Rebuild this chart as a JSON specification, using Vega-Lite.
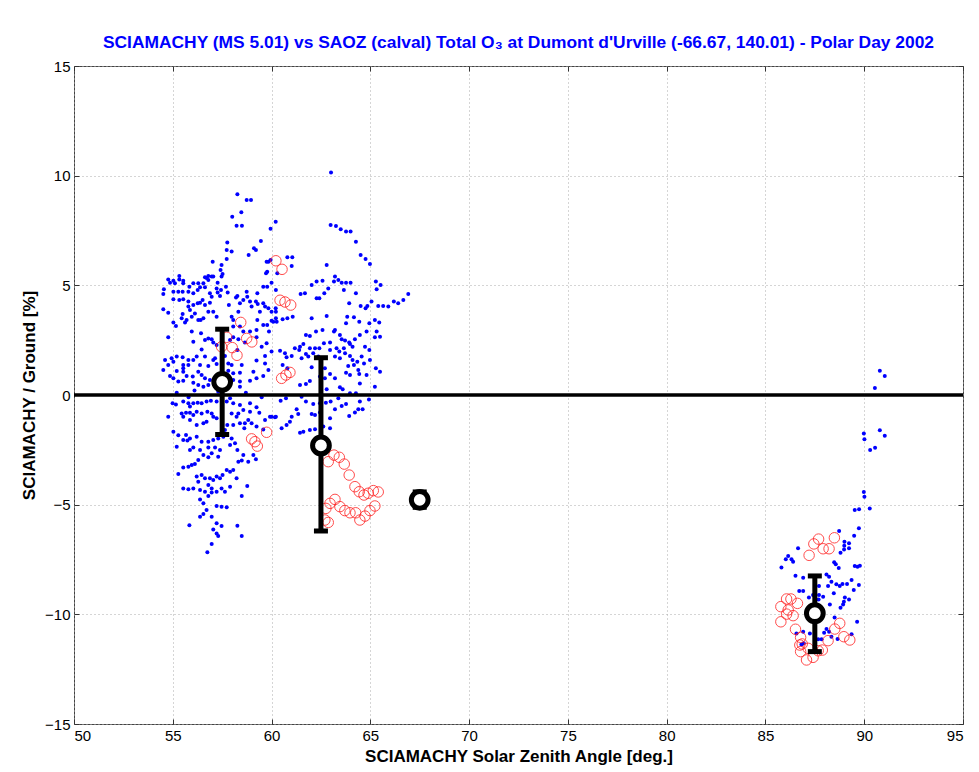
{
"$schema":"https://vega.github.io/schema/vega-lite/v6.json",
"width":889,"height":658,
"autosize":{"type":"none"},
"padding":{"left":74,"top":66,"right":16,"bottom":48},
"background":"white",
"title":{"text":"SCIAMACHY (MS 5.01) vs SAOZ (calval) Total O₃ at Dumont d'Urville (-66.67, 140.01) - Polar Day 2002","color":"#0000ff","fontSize":17.4,"fontWeight":"bold","font":"Liberation Sans","anchor":"middle","offset":8},
"config":{"view":{"stroke":"#444","strokeWidth":1},"axis":{"labelFont":"Liberation Sans","labelFontSize":15,"labelColor":"black","titleFont":"Liberation Sans","titleFontSize":17,"titleFontWeight":"bold","titleColor":"black","domain":false,"tickColor":"#333","gridColor":"#aaa","gridDash":[1,3],"gridOpacity":1}},
"datasets":{
"blue":[
{"sza":58.27,"d":9.15},{"sza":58.74,"d":8.89},{"sza":58.96,"d":8.89},{"sza":58.47,"d":8.33},{"sza":58.01,"d":8.13},{"sza":58.23,"d":7.72},{"sza":58.5,"d":7.72},{"sza":60.21,"d":7.9},{"sza":59.95,"d":7.58},{"sza":59.46,"d":7.02},{"sza":57.76,"d":6.95},{"sza":57.73,"d":6.61},{"sza":57.98,"d":6.54},{"sza":59.11,"d":6.69},{"sza":59.21,"d":6.61},{"sza":58.84,"d":6.38},{"sza":57.73,"d":6.2},{"sza":59.75,"d":6.08},{"sza":59.95,"d":6.16},
{"sza":63.01,"d":10.14},{"sza":62.99,"d":7.75},{"sza":63.26,"d":7.71},{"sza":63.5,"d":7.56},{"sza":63.77,"d":7.45},{"sza":64.0,"d":7.45},{"sza":64.27,"d":6.99},
{"sza":57.02,"d":6.08},{"sza":57.47,"d":5.93},{"sza":57.42,"d":5.7},{"sza":57.52,"d":5.52},{"sza":57.47,"d":5.4},{"sza":59.72,"d":5.55},{"sza":59.78,"d":5.62},{"sza":59.84,"d":6.08},{"sza":57.05,"d":5.4},{"sza":56.8,"d":5.43},{"sza":56.63,"d":5.37},
{"sza":54.77,"d":5.27},{"sza":55.03,"d":5.21},{"sza":55.33,"d":5.43},{"sza":55.33,"d":5.27},{"sza":55.53,"d":5.21},{"sza":55.53,"d":5.09},{"sza":54.86,"d":5.12},{"sza":55.11,"d":5.09},{"sza":56.04,"d":5.09},{"sza":56.29,"d":5.09},{"sza":56.55,"d":5.09},{"sza":56.8,"d":5.24},{"sza":56.71,"d":5.33},{"sza":56.97,"d":5.4},{"sza":57.27,"d":5.12},{"sza":57.22,"d":4.86},{"sza":57.69,"d":4.94},{"sza":57.78,"d":4.67},{"sza":57.44,"d":4.79},{"sza":58.27,"d":4.51},{"sza":58.74,"d":4.71},{"sza":58.77,"d":4.48},{"sza":58.91,"d":4.26},{"sza":59.21,"d":4.26},{"sza":59.28,"d":4.64},{"sza":59.58,"d":4.94},{"sza":59.78,"d":4.94},{"sza":60.22,"d":4.79},{"sza":59.41,"d":3.8},{"sza":59.67,"d":4.03},
{"sza":54.55,"d":4.82},{"sza":54.52,"d":4.61},{"sza":55.03,"d":4.71},{"sza":55.28,"d":4.71},{"sza":55.5,"d":4.71},{"sza":55.79,"d":4.71},{"sza":55.84,"d":4.94},{"sza":56.04,"d":4.64},{"sza":56.26,"d":4.79},{"sza":56.38,"d":4.91},{"sza":56.63,"d":4.91},{"sza":56.88,"d":4.64},{"sza":57.27,"d":4.67},
{"sza":55.03,"d":4.36},{"sza":55.33,"d":4.33},{"sza":55.53,"d":4.36},{"sza":55.79,"d":4.26},{"sza":55.79,"d":4.03},{"sza":55.87,"d":3.88},{"sza":56.04,"d":4.1},{"sza":56.26,"d":4.18},{"sza":56.38,"d":4.21},{"sza":56.51,"d":4.33},{"sza":56.63,"d":4.1},{"sza":56.88,"d":4.21},{"sza":56.97,"d":4.48},{"sza":57.39,"d":4.51},{"sza":57.84,"d":4.1},{"sza":58.2,"d":4.45},{"sza":58.4,"d":4.18},{"sza":58.57,"d":4.33},{"sza":58.99,"d":4.03},{"sza":59.3,"d":4.15},{"sza":59.58,"d":4.18},{"sza":59.84,"d":3.95},{"sza":60.21,"d":3.95},{"sza":58.32,"d":3.8},
{"sza":54.52,"d":3.91},{"sza":54.77,"d":3.75},{"sza":55.5,"d":3.69},{"sza":55.45,"d":3.5},{"sza":55.7,"d":3.42},{"sza":55.62,"d":3.3},{"sza":55.96,"d":3.57},{"sza":56.12,"d":3.72},{"sza":56.29,"d":3.42},{"sza":56.41,"d":3.42},{"sza":56.55,"d":3.5},{"sza":56.8,"d":3.8},{"sza":57.05,"d":3.8},{"sza":57.22,"d":3.57},{"sza":57.98,"d":3.57},{"sza":58.06,"d":3.42},{"sza":58.06,"d":3.12},{"sza":58.4,"d":3.12},{"sza":58.57,"d":2.89},{"sza":58.91,"d":2.89},{"sza":59.24,"d":2.96},{"sza":59.28,"d":3.42},{"sza":59.58,"d":3.19},{"sza":59.78,"d":3.19},{"sza":59.87,"d":2.89},{"sza":60.09,"d":3.34},{"sza":60.22,"d":3.5},{"sza":55.03,"d":3.3},{"sza":55.16,"d":3.15},
{"sza":54.77,"d":2.63},{"sza":55.96,"d":2.89},{"sza":56.04,"d":2.43},{"sza":56.43,"d":2.81},{"sza":56.63,"d":2.51},{"sza":56.8,"d":2.58},{"sza":56.97,"d":2.54},{"sza":57.05,"d":2.39},{"sza":57.22,"d":2.28},{"sza":57.9,"d":2.51},{"sza":58.06,"d":2.63},{"sza":58.32,"d":2.54},{"sza":58.65,"d":2.39},{"sza":59.24,"d":2.63},{"sza":59.75,"d":2.36},{"sza":59.5,"d":2.2},
{"sza":56.46,"d":2.08},{"sza":56.21,"d":1.75},{"sza":56.63,"d":1.75},{"sza":57.14,"d":1.67},{"sza":54.94,"d":1.67},{"sza":55.2,"d":1.75},{"sza":55.5,"d":1.72},{"sza":55.79,"d":1.6},{"sza":56.04,"d":1.6},{"sza":55.03,"d":1.52},{"sza":54.77,"d":1.37},{"sza":54.61,"d":1.6},{"sza":55.53,"d":1.37},{"sza":55.79,"d":1.37},{"sza":55.53,"d":1.22},{"sza":56.38,"d":1.37},{"sza":56.8,"d":1.32},{"sza":57.05,"d":1.6},{"sza":57.22,"d":1.41},{"sza":57.64,"d":1.78},{"sza":57.81,"d":1.44},{"sza":57.98,"d":1.37},{"sza":58.49,"d":1.37},{"sza":59.24,"d":1.57},{"sza":59.67,"d":1.78},{"sza":59.67,"d":1.44},{"sza":58.27,"d":2.05},
{"sza":54.52,"d":1.14},{"sza":55.2,"d":1.09},{"sza":55.53,"d":1.06},{"sza":55.7,"d":0.87},{"sza":56.01,"d":0.84},{"sza":56.29,"d":1.06},{"sza":56.46,"d":0.91},{"sza":56.63,"d":0.76},{"sza":56.88,"d":0.68},{"sza":56.04,"d":0.56},{"sza":56.29,"d":0.46},{"sza":56.55,"d":0.38},{"sza":56.8,"d":0.46},{"sza":55.53,"d":0.65},{"sza":55.28,"d":0.61},{"sza":55.03,"d":0.76},{"sza":54.86,"d":0.87},{"sza":57.81,"d":1.11},{"sza":58.06,"d":0.99},{"sza":58.4,"d":1.02},{"sza":58.06,"d":0.68},{"sza":58.4,"d":0.61},{"sza":59.84,"d":1.14},{"sza":59.08,"d":1.06},{"sza":59.24,"d":0.76},{"sza":59.58,"d":0.87},{"sza":58.91,"d":0.65},{"sza":58.4,"d":0.38},
{"sza":55.2,"d":0.1},{"sza":56.1,"d":0.2},{"sza":57.3,"d":0.15},{"sza":58.7,"d":0.1},{"sza":59.5,"d":-0.1},{"sza":55.8,"d":-0.1},{"sza":57.9,"d":-0.15},
{"sza":54.99,"d":-0.38},{"sza":55.16,"d":-0.43},{"sza":55.53,"d":-0.3},{"sza":55.79,"d":-0.38},{"sza":55.87,"d":-0.53},{"sza":56.04,"d":-0.38},{"sza":56.26,"d":-0.35},{"sza":56.46,"d":-0.38},{"sza":56.71,"d":-0.3},{"sza":56.93,"d":-0.26},{"sza":57.22,"d":-0.3},{"sza":57.73,"d":-0.3},{"sza":58.06,"d":-0.38},{"sza":58.4,"d":-0.46},{"sza":58.91,"d":-0.38},{"sza":59.24,"d":-0.56},{"sza":59.38,"d":-0.81},{"sza":58.91,"d":-0.76},{"sza":58.57,"d":-0.68},{"sza":58.32,"d":-0.84},{"sza":54.77,"d":-0.99},{"sza":55.45,"d":-0.84},{"sza":55.67,"d":-0.81},{"sza":55.87,"d":-0.81},{"sza":56.04,"d":-0.91},{"sza":56.21,"d":-0.76},{"sza":56.46,"d":-0.84},{"sza":56.75,"d":-0.76},{"sza":56.97,"d":-0.84},{"sza":57.05,"d":-0.99},{"sza":57.22,"d":-1.06},{"sza":56.71,"d":-1.22},{"sza":56.55,"d":-1.29},{"sza":56.21,"d":-1.37},{"sza":55.87,"d":-1.14},{"sza":55.53,"d":-0.99},{"sza":57.98,"d":-0.84},{"sza":58.23,"d":-0.99},{"sza":58.4,"d":-1.29},{"sza":58.65,"d":-1.29},{"sza":58.82,"d":-1.14},{"sza":58.99,"d":-1.29},{"sza":59.24,"d":-1.44},{"sza":59.67,"d":-1.14},{"sza":59.92,"d":-0.99},{"sza":60.17,"d":-1.02},{"sza":59.58,"d":-1.57},{"sza":58.62,"d":-1.52},{"sza":58.06,"d":-1.37},{"sza":57.76,"d":-1.37},{"sza":57.64,"d":-1.6},
{"sza":55.03,"d":-1.67},{"sza":55.28,"d":-1.84},{"sza":55.53,"d":-2.05},{"sza":55.67,"d":-1.82},{"sza":55.74,"d":-2.08},{"sza":55.87,"d":-1.98},{"sza":56.21,"d":-1.9},{"sza":56.46,"d":-2.13},{"sza":56.8,"d":-2.13},{"sza":57.05,"d":-2.05},{"sza":57.3,"d":-1.98},{"sza":57.56,"d":-1.9},{"sza":57.98,"d":-1.98},{"sza":58.15,"d":-2.2},{"sza":58.27,"d":-2.51},{"sza":57.9,"d":-2.28},{"sza":55.2,"d":-2.36},{"sza":55.87,"d":-2.51},{"sza":56.04,"d":-2.39},{"sza":56.38,"d":-2.51},{"sza":56.8,"d":-2.39},{"sza":57.14,"d":-2.39},{"sza":57.39,"d":-2.51},{"sza":57.3,"d":-2.81},{"sza":56.97,"d":-2.66},{"sza":56.8,"d":-2.84},{"sza":56.55,"d":-2.74},{"sza":56.29,"d":-2.96},{"sza":56.12,"d":-3.15},{"sza":55.96,"d":-3.19},{"sza":55.53,"d":-3.3},{"sza":55.79,"d":-3.27},{"sza":55.28,"d":-3.6},{"sza":56.21,"d":-3.72},{"sza":56.46,"d":-3.65},{"sza":56.63,"d":-3.8},{"sza":56.88,"d":-3.8},{"sza":57.05,"d":-3.88},{"sza":57.22,"d":-3.72},{"sza":57.39,"d":-3.8},{"sza":57.52,"d":-3.65},{"sza":57.73,"d":-3.42},{"sza":57.9,"d":-3.5},{"sza":58.06,"d":-3.42},{"sza":58.32,"d":-3.04},{"sza":58.49,"d":-2.99},{"sza":58.82,"d":-3.04},{"sza":58.57,"d":-2.74},{"sza":59.08,"d":-2.74},{"sza":59.21,"d":-2.93},
{"sza":55.53,"d":-4.26},{"sza":55.79,"d":-4.3},{"sza":56.04,"d":-4.26},{"sza":56.29,"d":-3.95},{"sza":56.38,"d":-4.33},{"sza":56.63,"d":-4.41},{"sza":56.8,"d":-4.1},{"sza":56.97,"d":-4.26},{"sza":57.22,"d":-4.41},{"sza":57.47,"d":-4.26},{"sza":57.64,"d":-4.41},{"sza":57.9,"d":-4.18},{"sza":58.23,"d":-3.8},{"sza":58.77,"d":-4.15},{"sza":58.49,"d":-4.61},{"sza":56.38,"d":-4.76},{"sza":56.8,"d":-4.61},{"sza":56.97,"d":-4.45},{"sza":56.55,"d":-4.94},{"sza":57.22,"d":-5.06},{"sza":57.47,"d":-5.09},{"sza":57.73,"d":-5.12},{"sza":56.71,"d":-5.24},{"sza":56.55,"d":-5.43},{"sza":56.38,"d":-5.55},{"sza":56.97,"d":-5.55},{"sza":57.22,"d":-5.85},{"sza":57.47,"d":-5.97},{"sza":57.05,"d":-6.13},{"sza":57.22,"d":-6.31},{"sza":57.3,"d":-6.43},{"sza":55.84,"d":-5.94},{"sza":58.27,"d":-5.96},{"sza":58.49,"d":-6.43},{"sza":56.97,"d":-6.79},{"sza":56.75,"d":-7.17},
{"sza":64.51,"d":6.38},{"sza":64.76,"d":6.2},{"sza":64.98,"d":5.97},{"sza":60.8,"d":6.28},{"sza":61.05,"d":6.28},{"sza":61.02,"d":5.88},{"sza":60.29,"d":5.55},{"sza":62.79,"d":5.93},{"sza":60.0,"d":5.12},{"sza":62.03,"d":5.02},{"sza":62.28,"d":5.17},{"sza":62.58,"d":5.21},{"sza":63.21,"d":5.4},{"sza":63.38,"d":5.24},{"sza":63.16,"d":5.17},{"sza":63.55,"d":5.12},{"sza":63.77,"d":5.12},{"sza":64.0,"d":5.12},{"sza":62.87,"d":4.86},{"sza":63.66,"d":4.79},{"sza":64.27,"d":4.64},{"sza":62.67,"d":4.64},{"sza":61.69,"d":4.64},{"sza":61.47,"d":4.61},{"sza":62.28,"d":4.41},{"sza":62.42,"d":4.41},{"sza":63.93,"d":4.18},{"sza":64.51,"d":4.06},{"sza":64.76,"d":3.95},{"sza":64.85,"d":4.06},{"sza":65.28,"d":5.17},{"sza":65.52,"d":5.02},{"sza":65.32,"d":4.82},{"sza":65.06,"d":4.26},{"sza":65.4,"d":4.06},{"sza":65.65,"d":4.06},{"sza":65.91,"d":4.03},{"sza":66.19,"d":4.26},{"sza":66.41,"d":4.18},{"sza":66.67,"d":4.33},{"sza":66.92,"d":4.61},
{"sza":60.22,"d":3.8},{"sza":60.0,"d":3.8},{"sza":61.07,"d":3.57},{"sza":60.8,"d":3.5},{"sza":60.56,"d":3.45},{"sza":60.26,"d":3.34},{"sza":60.0,"d":3.39},{"sza":62.03,"d":3.5},{"sza":62.79,"d":3.6},{"sza":63.83,"d":3.57},{"sza":64.17,"d":3.54},{"sza":64.44,"d":3.34},{"sza":64.95,"d":3.27},{"sza":65.23,"d":3.42},{"sza":65.45,"d":3.3},{"sza":63.77,"d":3.27},{"sza":63.21,"d":2.96},{"sza":63.16,"d":2.89},{"sza":62.58,"d":2.96},{"sza":62.25,"d":2.89},{"sza":61.94,"d":2.69},{"sza":61.74,"d":2.74},{"sza":63.46,"d":2.74},{"sza":63.55,"d":2.54},{"sza":63.72,"d":2.48},{"sza":63.93,"d":2.39},{"sza":64.22,"d":2.54},{"sza":64.47,"d":2.74},{"sza":64.81,"d":2.89},{"sza":65.32,"d":2.89},{"sza":65.49,"d":2.66},{"sza":65.23,"d":2.63},
{"sza":61.61,"d":2.33},{"sza":61.44,"d":2.2},{"sza":61.18,"d":2.13},{"sza":61.4,"d":2.05},{"sza":61.94,"d":2.13},{"sza":62.2,"d":2.13},{"sza":62.42,"d":2.13},{"sza":62.65,"d":2.36},{"sza":62.96,"d":2.39},{"sza":63.29,"d":2.13},{"sza":63.66,"d":2.13},{"sza":63.97,"d":2.33},{"sza":64.1,"d":2.2},{"sza":64.73,"d":2.2},{"sza":64.95,"d":2.05},{"sza":60.43,"d":2.02},{"sza":60.68,"d":1.9},{"sza":60.76,"d":1.72},{"sza":61.02,"d":1.78},{"sza":61.52,"d":1.67},{"sza":61.74,"d":1.87},{"sza":61.86,"d":1.75},{"sza":62.11,"d":1.9},{"sza":62.37,"d":1.75},{"sza":62.96,"d":2.05},{"sza":63.21,"d":1.75},{"sza":63.43,"d":1.98},{"sza":63.72,"d":1.9},{"sza":63.97,"d":1.78},{"sza":63.46,"d":1.67},{"sza":64.1,"d":1.6},{"sza":64.34,"d":1.52},{"sza":64.56,"d":1.75},{"sza":64.98,"d":1.6},{"sza":60.0,"d":1.98},
{"sza":60.56,"d":1.37},{"sza":60.8,"d":1.22},{"sza":62.03,"d":1.26},{"sza":62.7,"d":1.22},{"sza":63.88,"d":1.32},{"sza":64.17,"d":1.37},{"sza":64.39,"d":1.14},{"sza":64.68,"d":1.44},{"sza":65.28,"d":1.22},{"sza":65.49,"d":1.06},{"sza":62.96,"d":0.96},{"sza":63.21,"d":0.76},{"sza":62.7,"d":0.76},{"sza":62.45,"d":0.84},{"sza":63.77,"d":1.02},{"sza":63.97,"d":0.91},{"sza":64.44,"d":0.96},{"sza":64.81,"d":0.91},{"sza":61.94,"d":0.64},{"sza":61.74,"d":0.5},{"sza":61.44,"d":0.46},{"sza":62.79,"d":0.26},{"sza":63.46,"d":0.35},{"sza":63.6,"d":0.26},{"sza":64.47,"d":0.53},{"sza":65.23,"d":0.38},{"sza":63.97,"d":0.08},{"sza":64.27,"d":0.08},
{"sza":61.52,"d":-0.08},{"sza":61.74,"d":-0.3},{"sza":60.73,"d":-0.15},{"sza":60.46,"d":-0.26},{"sza":62.11,"d":-0.41},{"sza":62.45,"d":-0.38},{"sza":62.75,"d":-0.35},{"sza":62.99,"d":-0.3},{"sza":63.38,"d":-0.15},{"sza":63.55,"d":-0.5},{"sza":63.77,"d":-0.41},{"sza":64.47,"d":-0.3},{"sza":64.93,"d":-0.2},{"sza":62.03,"d":-0.87},{"sza":62.2,"d":-0.91},{"sza":62.45,"d":-0.8},{"sza":62.96,"d":-1.06},{"sza":63.21,"d":-0.65},{"sza":61.27,"d":-0.65},{"sza":61.35,"d":-0.87},{"sza":61.02,"d":-0.99},{"sza":60.93,"d":-1.22},{"sza":60.76,"d":-1.37},{"sza":60.51,"d":-1.52},{"sza":64.61,"d":-0.65},{"sza":64.39,"d":-0.65},{"sza":64.22,"d":-0.8},{"sza":63.93,"d":-0.96},{"sza":60.0,"d":-0.99},{"sza":60.22,"d":-0.99},{"sza":61.44,"d":-1.72},{"sza":61.61,"d":-1.67},{"sza":61.94,"d":-1.6},{"sza":62.2,"d":-1.56},{"sza":62.62,"d":-1.44},{"sza":62.96,"d":-1.52},
{"sza":90.79,"d":1.11},{"sza":91.04,"d":0.87},{"sza":90.54,"d":0.32},{"sza":90.79,"d":-1.61},{"sza":91.04,"d":-1.86},{"sza":89.98,"d":-1.76},{"sza":90.01,"d":-2.02},{"sza":90.55,"d":-2.4},{"sza":90.3,"d":-2.51},{"sza":89.98,"d":-4.42},{"sza":90.01,"d":-4.64},{"sza":89.52,"d":-5.24},{"sza":89.74,"d":-5.21},{"sza":90.28,"d":-5.17},{"sza":89.73,"d":-6.08},{"sza":88.73,"d":-6.2},{"sza":89.49,"d":-6.42},{"sza":89.0,"d":-6.69},{"sza":89.23,"d":-6.76},{"sza":88.99,"d":-6.87},{"sza":89.23,"d":-6.99},{"sza":88.8,"d":-7.19},{"sza":88.98,"d":-7.04},{"sza":86.65,"d":-6.99},{"sza":86.15,"d":-7.34},{"sza":86.03,"d":-7.49},{"sza":86.32,"d":-7.49},{"sza":86.4,"d":-7.6},{"sza":85.81,"d":-7.86},{"sza":88.48,"d":-7.63},{"sza":88.56,"d":-7.72},{"sza":88.71,"d":-7.89},{"sza":89.52,"d":-7.8},{"sza":89.66,"d":-7.83},{"sza":89.78,"d":-7.78},{"sza":86.52,"d":-8.24},{"sza":86.91,"d":-8.33},{"sza":88.09,"d":-8.18},{"sza":88.22,"d":-8.29},{"sza":88.34,"d":-8.51},{"sza":88.17,"d":-8.71},{"sza":87.71,"d":-8.71},{"sza":88.59,"d":-8.63},{"sza":88.76,"d":-8.71},{"sza":88.9,"d":-8.62},{"sza":89.13,"d":-8.62},{"sza":89.36,"d":-8.44},{"sza":89.73,"d":-8.66},{"sza":89.47,"d":-8.89},{"sza":86.71,"d":-8.94},{"sza":86.91,"d":-8.94},{"sza":87.2,"d":-9.23},{"sza":87.41,"d":-9.12},{"sza":87.71,"d":-9.12},{"sza":87.92,"d":-9.2},{"sza":87.69,"d":-9.32},{"sza":87.5,"d":-9.43},{"sza":88.46,"d":-9.04},{"sza":89.02,"d":-9.23},{"sza":89.23,"d":-9.32},{"sza":88.97,"d":-9.43},{"sza":88.93,"d":-9.55},{"sza":88.8,"d":-9.7},{"sza":88.26,"d":-9.55},{"sza":88.5,"d":-10.15},{"sza":89.64,"d":-10.34},{"sza":88.09,"d":-10.67},{"sza":88.22,"d":-10.79},{"sza":87.97,"d":-10.84},{"sza":87.25,"d":-10.87},{"sza":86.91,"d":-10.79},{"sza":89.36,"d":-10.91},{"sza":88.65,"d":-11.13},{"sza":88.34,"d":-11.02},{"sza":87.67,"d":-11.14},{"sza":87.84,"d":-11.14},{"sza":86.82,"d":-11.37},{"sza":86.94,"d":-11.32},{"sza":86.57,"d":-10.87}
],
"red":[
{"sza":60.22,"d":6.12},{"sza":60.53,"d":5.73},{"sza":60.43,"d":4.32},{"sza":60.68,"d":4.24},{"sza":60.97,"d":4.1},{"sza":58.44,"d":3.31},{"sza":57.73,"d":2.63},{"sza":58.74,"d":2.58},{"sza":59.0,"d":2.42},{"sza":58.01,"d":2.16},{"sza":58.25,"d":1.81},{"sza":57.47,"d":2.2},{"sza":60.51,"d":0.76},{"sza":60.73,"d":0.91},{"sza":60.93,"d":1.03},{"sza":59.75,"d":-1.7},{"sza":58.99,"d":-2.0},{"sza":59.16,"d":-2.13},{"sza":59.28,"d":-2.33},
{"sza":62.87,"d":-3.04},{"sza":63.16,"d":-2.74},{"sza":63.43,"d":-2.84},{"sza":63.68,"d":-3.15},{"sza":63.93,"d":-3.65},{"sza":64.22,"d":-4.18},{"sza":64.44,"d":-4.41},{"sza":64.68,"d":-4.56},{"sza":64.89,"d":-4.48},{"sza":65.15,"d":-4.36},{"sza":65.4,"d":-4.42},{"sza":63.21,"d":-4.76},{"sza":62.96,"d":-4.94},{"sza":62.75,"d":-5.17},{"sza":63.46,"d":-5.09},{"sza":63.71,"d":-5.27},{"sza":63.97,"d":-5.37},{"sza":64.26,"d":-5.37},{"sza":64.47,"d":-5.7},{"sza":64.73,"d":-5.52},{"sza":64.98,"d":-5.27},{"sza":65.23,"d":-5.06},{"sza":62.87,"d":-5.81},{"sza":62.7,"d":-5.7},
{"sza":87.69,"d":-6.57},{"sza":87.45,"d":-6.79},{"sza":87.92,"d":-7.01},{"sza":88.22,"d":-7.01},{"sza":88.49,"d":-6.51},{"sza":87.21,"d":-7.31},{"sza":86.07,"d":-9.3},{"sza":86.29,"d":-9.3},{"sza":86.62,"d":-9.5},{"sza":85.78,"d":-9.65},{"sza":86.15,"d":-9.8},{"sza":86.07,"d":-9.99},{"sza":86.4,"d":-10.06},{"sza":85.78,"d":-10.34},{"sza":86.52,"d":-10.68},{"sza":86.78,"d":-11.05},{"sza":86.86,"d":-11.35},{"sza":86.78,"d":-11.7},{"sza":87.08,"d":-12.08},{"sza":87.41,"d":-11.96},{"sza":87.16,"d":-11.55},{"sza":87.88,"d":-11.63},{"sza":88.17,"d":-11.2},{"sza":88.51,"d":-10.67},{"sza":88.76,"d":-10.41},{"sza":88.97,"d":-11.02},{"sza":89.27,"d":-11.17},{"sza":87.67,"d":-11.66},{"sza":86.74,"d":-11.4}
],
"mean":[
{"sza":57.5,"m":0.6,"lo":-1.8,"hi":3.0},
{"sza":62.5,"m":-2.3,"lo":-6.2,"hi":1.7},
{"sza":67.5,"m":-4.78,"lo":-5.12,"hi":-4.42},
{"sza":87.5,"m":-9.95,"lo":-11.7,"hi":-8.25}
]},
"resolve":{"axis":{"x":"independent","y":"independent"}},
"layer":[
{"data":{"name":"blue"},"mark":{"type":"point","shape":"circle","filled":true,"size":16,"color":"#0000ff","opacity":1},
 "encoding":{
  "x":{"field":"sza","type":"quantitative","scale":{"domain":[50,95],"nice":false,"zero":false},"axis":{"title":"SCIAMACHY Solar Zenith Angle [deg.]","values":[50,55,60,65,70,75,80,85,90,95],"tickSize":-5,"labelPadding":9,"titlePadding":5,"grid":true}},
  "y":{"field":"d","type":"quantitative","scale":{"domain":[-15,15],"nice":false,"zero":false},"axis":{"title":"SCIAMACHY / Ground [%]","values":[-15,-10,-5,0,5,10,15],"tickSize":-5,"labelPadding":9,"titlePadding":6,"grid":true}}}},
{"data":{"name":"red"},"mark":{"type":"point","shape":"circle","filled":false,"size":110,"color":"#ff2020","strokeWidth":1,"opacity":0.8},
 "encoding":{"x":{"field":"sza","type":"quantitative","axis":null},"y":{"field":"d","type":"quantitative","axis":null}}},
{"data":{"values":[{}]},"mark":{"type":"rule","strokeWidth":3.5,"color":"black"},"encoding":{"y":{"datum":0,"type":"quantitative","axis":null}}},
{"data":{"name":"mean"},"mark":{"type":"rule","strokeWidth":5,"color":"black"},
 "encoding":{"x":{"field":"sza","type":"quantitative","axis":null},"y":{"field":"lo","type":"quantitative","axis":null},"y2":{"field":"hi"}}},
{"data":{"name":"mean"},"mark":{"type":"tick","orient":"horizontal","size":14,"thickness":5,"color":"black","opacity":1},
 "encoding":{"x":{"field":"sza","type":"quantitative","axis":null},"y":{"field":"hi","type":"quantitative","axis":null}}},
{"data":{"name":"mean"},"mark":{"type":"tick","orient":"horizontal","size":14,"thickness":5,"color":"black","opacity":1},
 "encoding":{"x":{"field":"sza","type":"quantitative","axis":null},"y":{"field":"lo","type":"quantitative","axis":null}}},
{"data":{"name":"mean"},"mark":{"type":"point","shape":"circle","filled":true,"fill":"white","stroke":"black","strokeWidth":5,"size":280,"opacity":1},
 "encoding":{"x":{"field":"sza","type":"quantitative","axis":{"orient":"top","labels":false,"title":null,"values":[50,55,60,65,70,75,80,85,90,95],"tickSize":-5,"grid":false}},"y":{"field":"m","type":"quantitative","axis":{"orient":"right","labels":false,"title":null,"values":[-15,-10,-5,0,5,10,15],"tickSize":-5,"grid":false}}}}
]
}
